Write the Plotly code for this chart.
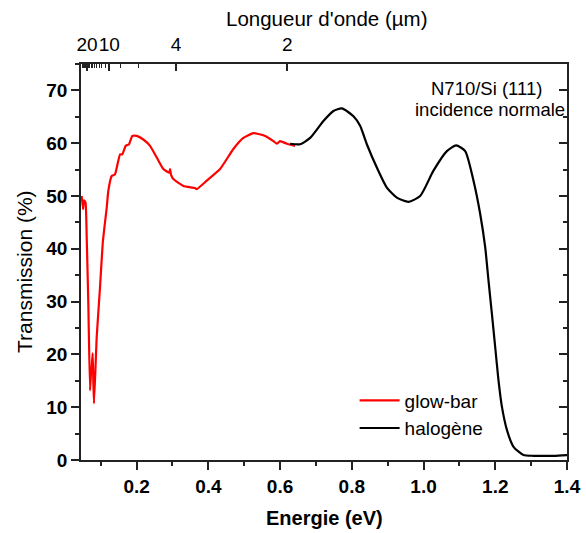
import plotly.graph_objects as go

# Transmission spectra of N710 on Si(111), normal incidence
energy_glowbar = [0.047, 0.0506, 0.0534, 0.0576, 0.0609, 0.0654, 0.0701, 0.0729, 0.0748,
                  0.0776, 0.0793, 0.0813, 0.0888, 0.0980, 0.1055, 0.1119, 0.1167, 0.1212,
                  0.1306, 0.1398, 0.1538, 0.1602, 0.1697, 0.1789, 0.1881, 0.2004, 0.2188,
                  0.2375, 0.2562, 0.2746, 0.2913, 0.2933, 0.2961, 0.3025, 0.3304, 0.3630,
                  0.3677, 0.3956, 0.4327, 0.4698, 0.4977, 0.5256, 0.5535, 0.5814, 0.5909,
                  0.6001, 0.6188, 0.6419]
trans_glowbar = [50.0, 47.5, 49.2, 48.8, 42.2, 29.6, 13.2, 16.5, 17.6,
                 20.2, 15.0, 10.7, 23.3, 32.7, 41.0, 45.0, 47.8, 51.0,
                 53.8, 54.1, 57.9, 57.9, 59.5, 59.8, 61.4, 61.4, 60.7,
                 59.5, 57.3, 55.1, 54.4, 55.1, 54.0, 53.2, 51.9, 51.5,
                 51.3, 52.9, 55.1, 58.9, 61.0, 61.9, 61.5, 60.4, 59.9,
                 60.4, 59.9, 59.5]

energy_halogen = [0.628, 0.6559, 0.6838, 0.7209, 0.7488, 0.7722, 0.8046, 0.8232, 0.8419,
                  0.8698, 0.8977, 0.9256, 0.9580, 0.9906, 1.0277, 1.0651, 1.0910, 1.1161,
                  1.1393, 1.1580, 1.1719, 1.1811, 1.1906, 1.1998, 1.2090, 1.2185, 1.2324,
                  1.2509, 1.2787, 1.3067, 1.3625, 1.40]
trans_halogen = [59.9, 59.8, 61.0, 64.2, 66.1, 66.6, 65.1, 63.3, 59.8,
                 55.4, 51.6, 49.7, 48.9, 50.0, 54.8, 58.5, 59.6, 58.5,
                 52.9, 46.6, 40.3, 34.0, 27.7, 21.4, 15.1, 10.1, 5.7,
                 2.5, 0.94, 0.8, 0.8, 0.94]

# Wavelength (µm) ticks for the top axis
wl_major = [20, 10, 4, 2]
wl_minor = [27, 26, 25, 24, 23, 22, 21, 19, 18, 17, 16, 15, 14, 13, 12, 11, 8, 6]

HC = 1.23984  # eV·µm

x_range = [0.045, 1.4]
y_range = [0, 75]

FONT = "Liberation Sans, Arial, sans-serif"
AX = "#222222"

fig = go.Figure()
fig.add_trace(go.Scatter(x=energy_glowbar, y=trans_glowbar, mode="lines", name="glow-bar",
                         line=dict(color="#ff0000", width=2.2, shape="spline", smoothing=0.4)))
fig.add_trace(go.Scatter(x=energy_halogen, y=trans_halogen, mode="lines", name="halogène",
                         line=dict(color="#000000", width=2.2, shape="spline", smoothing=0.6)))
# carrier for the top/right frame axes
fig.add_trace(go.Scatter(x=[None], y=[None], xaxis="x2", yaxis="y2", showlegend=False,
                         hoverinfo="skip"))

fig.update_layout(
    width=586, height=533,
    margin=dict(l=81, r=19, t=64, b=73, autoexpand=False),
    paper_bgcolor="white", plot_bgcolor="white",
    font=dict(family=FONT, color="#000000", size=19),
    showlegend=True,
    legend=dict(x=0.563, y=0.115, xanchor="left", yanchor="middle",
                bgcolor="rgba(0,0,0,0)", font=dict(size=19, family=FONT),
                itemwidth=40, tracegroupgap=0),
    xaxis=dict(range=x_range, showgrid=False, zeroline=False, showline=True,
               automargin=False,
               linecolor=AX, linewidth=1.5, ticks="outside", ticklen=8, tickwidth=1.5,
               tickcolor=AX, tick0=0, dtick=0.2, tickformat=".1f", tickangle=0,
               tickfont=dict(size=19, weight="bold", family=FONT),
               minor=dict(dtick=0.1, tick0=0, ticks="outside", ticklen=4, tickwidth=1.5,
                          tickcolor=AX)),
    yaxis=dict(range=y_range, showgrid=False, zeroline=False, showline=True,
               automargin=False,
               linecolor=AX, linewidth=1.5, ticks="outside", ticklen=8, tickwidth=1.5,
               tickcolor=AX, tick0=0, dtick=10,
               tickfont=dict(size=19, weight="bold", family=FONT),
               minor=dict(dtick=5, tick0=0, ticks="outside", ticklen=4, tickwidth=1.5,
                          tickcolor=AX)),
    xaxis2=dict(range=x_range, overlaying="x", side="top", anchor="y",
                automargin=False,
                showgrid=False, zeroline=False, showline=True,
                linecolor=AX, linewidth=1.5, ticks="inside", ticklen=7, tickwidth=1.5,
                tickcolor=AX, tickmode="array", tickangle=0,
                tickvals=[HC / w for w in wl_major], ticktext=[str(w) for w in wl_major],
                tickfont=dict(size=19, family=FONT, style="normal", weight="normal"),
                ticklabelstandoff=4,
                minor=dict(tickmode="array", tickvals=[HC / w for w in wl_minor],
                           ticks="inside", ticklen=4, tickwidth=1.2, tickcolor=AX)),
    yaxis2=dict(range=y_range, overlaying="y", side="right", anchor="x",
                automargin=False,
                showgrid=False, zeroline=False, showline=True,
                linecolor=AX, linewidth=1.5, ticks="inside", ticklen=8, tickwidth=1.5,
                tickcolor=AX, tick0=0, dtick=10, showticklabels=False,
                minor=dict(dtick=5, tick0=0, ticks="inside", ticklen=4, tickwidth=1.5,
                           tickcolor=AX)),
)

annotations = [
    dict(text="Energie (eV)", x=0.502, y=-0.1465, xref="paper", yref="paper",
         showarrow=False, font=dict(size=20, weight="bold", family=FONT),
         xanchor="center", yanchor="middle"),
    dict(text="Transmission (%)", x=-0.115, y=0.475, xref="paper", yref="paper",
         showarrow=False, textangle=-90, font=dict(size=21, family=FONT),
         xanchor="center", yanchor="middle"),
    dict(text="Longueur d'onde (µm)", x=0.507, y=1.116, xref="paper", yref="paper",
         showarrow=False, font=dict(size=20.5, family=FONT),
         xanchor="center", yanchor="middle"),
    dict(text="N710/Si (111)", x=0.835, y=0.939, xref="paper", yref="paper",
         showarrow=False, font=dict(size=18.5, family=FONT),
         xanchor="center", yanchor="middle"),
    dict(text="incidence normale", x=0.8416, y=0.884, xref="paper", yref="paper",
         showarrow=False, font=dict(size=18.5, family=FONT),
         xanchor="center", yanchor="middle"),
]
fig.update_layout(annotations=annotations)

fig.write_html("out.html")
